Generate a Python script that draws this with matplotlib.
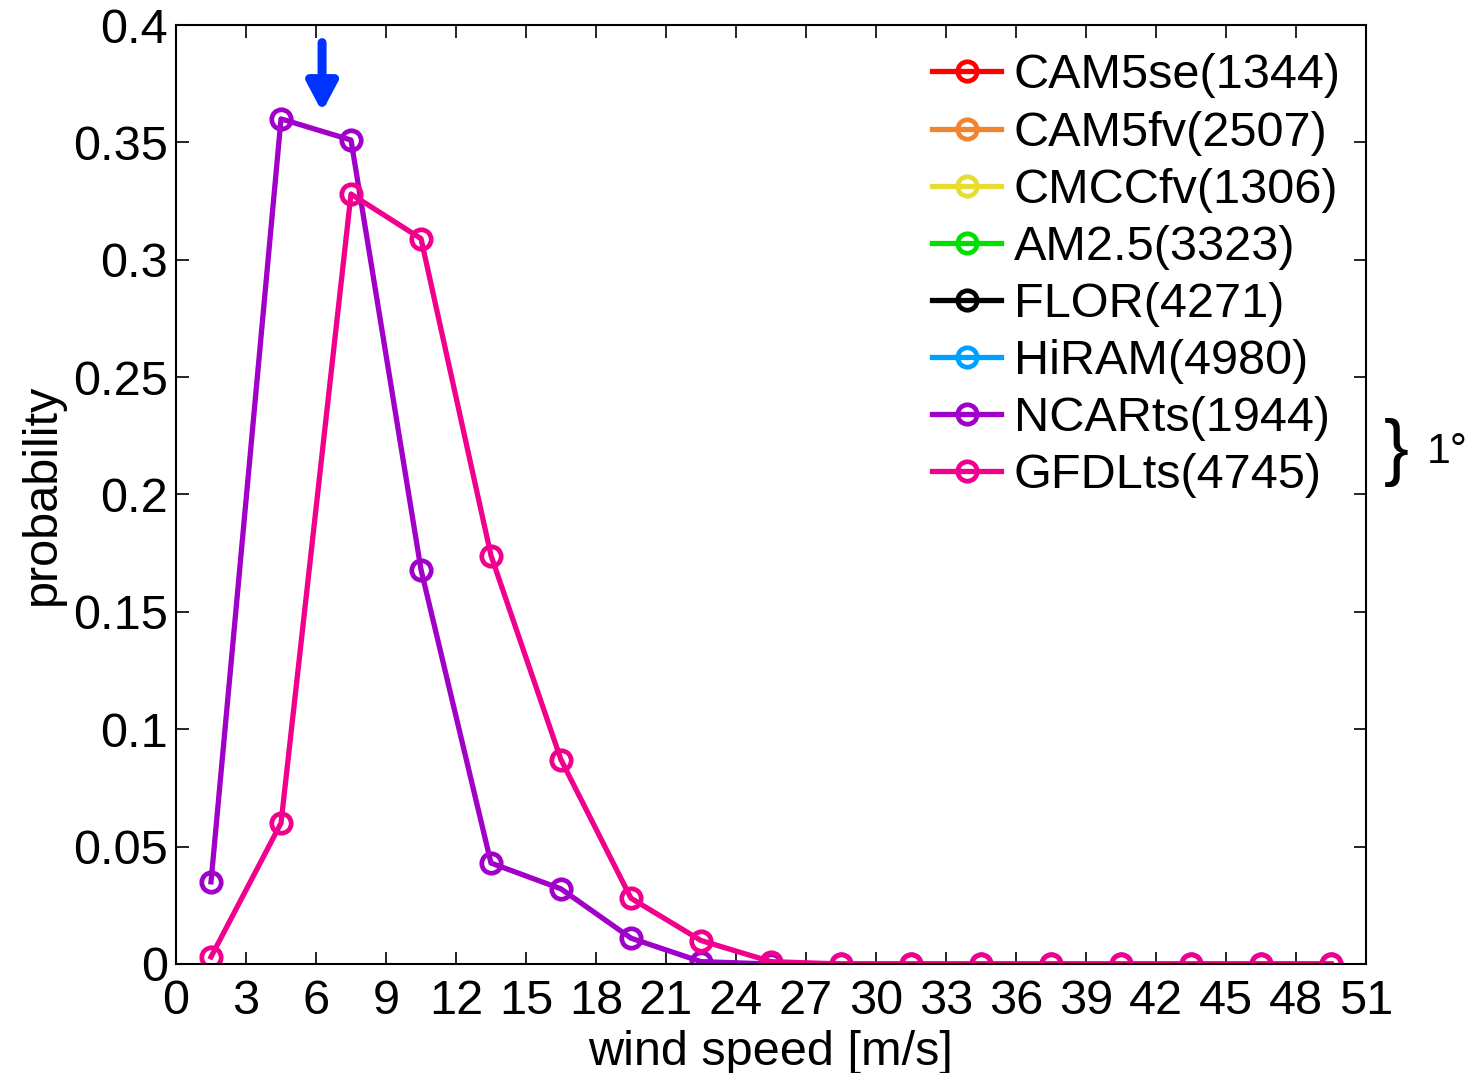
import matplotlib
matplotlib.use('Agg')
import matplotlib.pyplot as plt
import numpy as np

plt.rcParams['font.family'] = ['Liberation Sans', 'DejaVu Sans']

# bin centres of the 3 m/s wind speed bins
wind = [1.5, 4.5, 7.5, 10.5, 13.5, 16.5, 19.5, 22.5, 25.5, 28.5,
        31.5, 34.5, 37.5, 40.5, 43.5, 46.5, 49.5]

models = ['CAM5se(1344)', 'CAM5fv(2507)', 'CMCCfv(1306)', 'AM2.5(3323)',
          'FLOR(4271)', 'HiRAM(4980)', 'NCARts(1944)', 'GFDLts(4745)']
colors = ['#ff0000', '#ef8530', '#e6dc32', '#00e000',
          '#000000', '#00a0ff', '#a000c8', '#f0008c']

ncar_ts = [0.035, 0.360, 0.351, 0.168, 0.043, 0.032, 0.011, 0.001, 0.0,
           0.0, 0.0, 0.0, 0.0, 0.0, 0.0, 0.0, 0.0]
gfdl_ts = [0.003, 0.060, 0.328, 0.309, 0.174, 0.087, 0.028, 0.010, 0.001,
           0.0, 0.0, 0.0, 0.0, 0.0, 0.0, 0.0, 0.0]

# only the two 1 degree runs have data in this panel
series = {'NCARts(1944)': ncar_ts, 'GFDLts(4745)': gfdl_ts}

xticks = np.arange(0, 52, 3)
yticks = [0, 0.05, 0.1, 0.15, 0.2, 0.25, 0.3, 0.35, 0.4]
ytick_labels = ['0', '0.05', '0.1', '0.15', '0.2', '0.25', '0.3', '0.35', '0.4']

fs = 35

fig = plt.figure(figsize=(14.68, 10.73), dpi=100)
ax = fig.add_axes([0.1199, 0.1016, 0.8106, 0.8751])

for name, c in zip(models, colors):
    y = series.get(name, [])
    x = wind[:len(y)]
    ax.plot(x, y, '-o', color=c, lw=3.8, ms=14, mew=3.4, mfc='none',
            label=name)

ax.set_xlim(0, 51)
ax.set_ylim(0, 0.4)
ax.set_xticks(xticks)
ax.set_xticklabels([str(v) for v in xticks])
ax.set_yticks(yticks)
ax.set_yticklabels(ytick_labels)
ax.tick_params(direction='in', length=9, width=1.2, labelsize=fs,
               top=True, right=True)
ax.tick_params(axis='x', pad=11)
ax.tick_params(axis='y', pad=6)
for s in ax.spines.values():
    s.set_linewidth(1.5)

ax.set_xlabel('wind speed [m/s]', fontsize=fs, labelpad=4)
ax.set_ylabel('probability', fontsize=fs, labelpad=6)

# arrow marking the peak
ax.annotate('', xy=(6.26, 0.363), xytext=(6.26, 0.3925),
            arrowprops=dict(arrowstyle='-|>,head_width=0.45,head_length=0.85',
                            mutation_scale=20, color='#0033ff', lw=6.5,
                            shrinkA=0, shrinkB=0))

leg = ax.legend(loc='upper left', bbox_to_anchor=(0.607, 1.006),
                fontsize=fs, handlelength=1.42, handletextpad=0.25,
                labelspacing=0.25, borderpad=0.2, frameon=True,
                fancybox=False, edgecolor='none', framealpha=1)

fig.text(0.951, 0.578, '}', fontsize=54, va='center', ha='center')
fig.text(0.972, 0.579, '1°', fontsize=31, va='center', ha='left')

fig.savefig('out.png', dpi=100)
